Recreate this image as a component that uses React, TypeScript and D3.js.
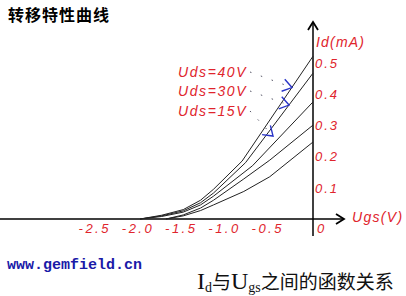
import React from "react";
import * as d3 from "d3";

const xTicks = [-2.5, -2.0, -1.5, -1.0, -0.5];
const yTicks = [0.1, 0.2, 0.3, 0.4, 0.5];

// Ugs (V) sample points and Id (mA) for each curve
const ugs40 = [-2.0, -1.75, -1.5, -1.3, -1.15, -0.82, 0];
const id40 = [0, 0.012, 0.03, 0.06, 0.095, 0.185, 0.52];
const ugs30 = [-2.0, -1.75, -1.5, -1.3, -1.15, -0.78, 0];
const id30 = [0, 0.01, 0.026, 0.052, 0.083, 0.18, 0.466];
const ugs15 = [-2.0, -1.75, -1.5, -1.3, -1.15, -0.7, 0];
const id15 = [0, 0.008, 0.022, 0.045, 0.073, 0.17, 0.374];
const ugsA = [-1.7, -1.5, -1.3, -1.15, -0.8, -0.5, 0];
const idA = [0, 0.013, 0.035, 0.06, 0.128, 0.188, 0.3];
const ugsB = [-1.7, -1.5, -1.3, -1.15, -0.8, -0.5, 0];
const idB = [0, 0.01, 0.027, 0.045, 0.088, 0.135, 0.246];

const seriesX = [ugs40, ugs30, ugs15, ugsA, ugsB];
const seriesY = [id40, id30, id15, idA, idB];

const labels = ["Uds=40V", "Uds=30V", "Uds=15V"];
const targetUgs = [-0.243, -0.277, -0.462];
const targetId = [0.42, 0.364, 0.265];

export default function App() {
  const x = d3.scaleLinear().domain([-2, 0]).range([140, 313]);
  const y = d3.scaleLinear().domain([0, 0.5]).range([219, 62.5]);
  const line = d3
    .line<[number, number]>()
    .x((d) => x(d[0]))
    .y((d) => y(d[1]))
    .curve(d3.curveLinear);

  const red = "#e0242c";
  const blue = "#2a35c8";
  const tickFont = "'Liberation Sans', Arial, sans-serif";
  const x0 = x(0);
  const y0 = y(0);

  const labelY = [72, 91, 111];
  const labelEnd = 247;

  return (
    <svg
      width={406}
      height={296}
      style={{ position: "absolute", left: 0, top: 0, background: "#fff" }}
    >
      <text
        x={8}
        y={21}
        fontFamily="'Noto Sans CJK SC', sans-serif"
        fontWeight="bold"
        fontSize={16}
        letterSpacing={1}
        fill="#000"
      >
        转移特性曲线
      </text>

      {/* axes */}
      <line x1={0} y1={y0} x2={344} y2={y0} stroke="#000" strokeWidth={1.5} />
      <path d={`M336,${y0 - 5} L344,${y0} L336,${y0 + 5}`} fill="none" stroke="#000" strokeWidth={1.8} />
      <line x1={x0} y1={236} x2={x0} y2={22} stroke="#000" strokeWidth={1.5} />
      <path d={`M${x0 - 5},30 L${x0},22 L${x0 + 5},30`} fill="none" stroke="#000" strokeWidth={1.8} />

      {/* curves */}
      {seriesX.map((xs, i) => (
        <path
          key={i}
          d={line(xs.map((v, j) => [v, seriesY[i][j]] as [number, number])) || ""}
          fill="none"
          stroke="#222"
          strokeWidth={1}
        />
      ))}

      {/* x tick labels */}
      {xTicks.map((t) => (
        <text
          key={t}
          x={x(t) - 2}
          y={233}
          textAnchor="middle"
          fontFamily={tickFont}
          fontStyle="italic"
          fontSize={13}
          letterSpacing={2.5}
          fill={red}
        >
          {t.toFixed(1)}
        </text>
      ))}
      <text x={x0 + 4} y={233} fontFamily={tickFont} fontStyle="italic" fontSize={13} fill={red}>
        0
      </text>

      {/* y tick labels */}
      {yTicks.map((t) => (
        <text
          key={t}
          x={x0 + 2}
          y={y(t) + 5}
          fontFamily={tickFont}
          fontStyle="italic"
          fontSize={13}
          letterSpacing={2}
          fill={red}
        >
          {t.toFixed(1)}
        </text>
      ))}

      <text x={316} y={47} fontFamily={tickFont} fontStyle="italic" fontSize={14} letterSpacing={1.2} fill={red}>
        Id(mA)
      </text>
      <text x={352} y={222} fontFamily={tickFont} fontStyle="italic" fontSize={14} letterSpacing={1.3} fill={red}>
        Ugs(V)
      </text>

      {/* Uds labels and arrows */}
      {labels.map((l, i) => {
        const tx = x(targetUgs[i]);
        const ty = y(targetId[i]);
        const ly = labelY[i];
        const sx = labelEnd + 3;
        const sy = ly;
        const ang = Math.atan2(ty - sy, tx - sx);
        const len = 11;
        const a1 = ang + 0.5;
        const a2 = ang - 0.7;
        return (
          <g key={l}>
            <text
              x={178}
              y={ly + 5}
              fontFamily={tickFont}
              fontStyle="italic"
              fontSize={14}
              letterSpacing={1.6}
              fill={red}
            >
              {l}
            </text>
            <line
              x1={sx}
              y1={sy}
              x2={tx - Math.cos(ang) * 6}
              y2={ty - Math.sin(ang) * 6}
              stroke="#556"
              strokeWidth={1}
              strokeDasharray="1.5,10"
            />
            <path
              d={`M${tx - Math.cos(a1) * len},${ty - Math.sin(a1) * len} L${tx},${ty} L${tx - Math.cos(a2) * len},${ty - Math.sin(a2) * len}`}
              fill="none"
              stroke={blue}
              strokeWidth={1.4}
            />
          </g>
        );
      })}

      <text
        x={7}
        y={269}
        fontFamily="'Liberation Mono', 'DejaVu Sans Mono', monospace"
        fontWeight="bold"
        fontSize={15}
        fill="#1a1aa8"
      >
        www.gemfield.cn
      </text>

      <text x={197} y={289} fill="#111">
        <tspan fontFamily="'Liberation Serif', serif" fontSize={24}>I</tspan>
        <tspan fontFamily="'Liberation Serif', serif" fontSize={14} dy={3}>d</tspan>
        <tspan fontFamily="'Noto Sans CJK SC', sans-serif" fontSize={19} dy={-3}>与</tspan>
        <tspan fontFamily="'Liberation Serif', serif" fontSize={24}>U</tspan>
        <tspan fontFamily="'Liberation Serif', serif" fontSize={14} dy={3}>gs</tspan>
        <tspan fontFamily="'Noto Sans CJK SC', sans-serif" fontSize={19} dy={-3}>之间的函数关系</tspan>
      </text>
    </svg>
  );
}
